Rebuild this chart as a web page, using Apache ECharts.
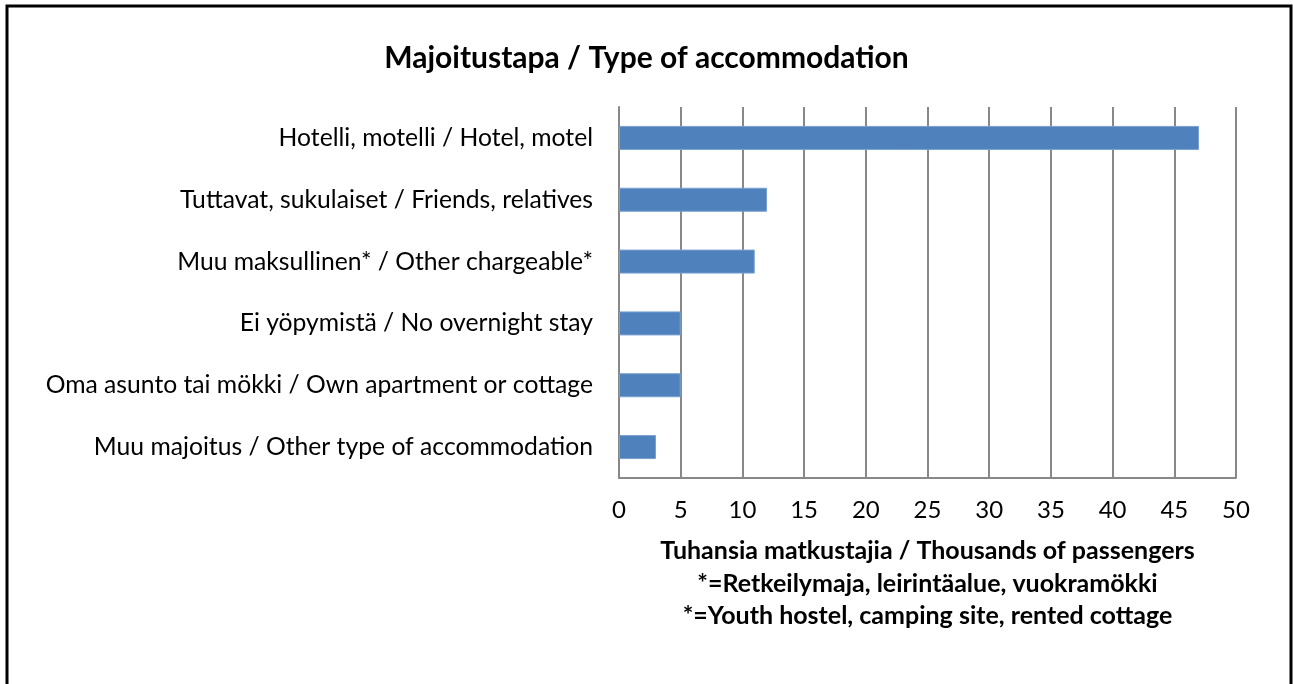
<!DOCTYPE html>
<html>
<head>
<meta charset="utf-8">
<script src="https://cdn.jsdelivr.net/npm/echarts@6/dist/echarts.min.js"></script>
<style>
  html, body { margin: 0; padding: 0; background: #fff; }
  #chart { width: 1293px; height: 684px; }
</style>
</head>
<body>
<div id="chart"></div>
<script>
// accommodation types, listed bottom to top as the y axis draws them
var categories = [
    'Muu majoitus / Other type of accommodation',
    'Oma asunto tai mökki / Own apartment or cottage',
    'Ei yöpymistä / No overnight stay',
    'Muu maksullinen* / Other chargeable*',
    'Tuttavat, sukulaiset / Friends, relatives',
    'Hotelli, motelli / Hotel, motel'
];
var passengers = [3, 5, 5, 11, 12, 47]; // thousands
var axisNameLines = [
    'Tuhansia matkustajia / Thousands of passengers',
    '*=Retkeilymaja, leirintäalue, vuokramökki',
    '*=Youth hostel, camping site, rented cottage'
];

var font = 'Lato, "Open Sans", sans-serif';

var chart = echarts.init(document.getElementById('chart'));
chart.setOption({
    animation: false,
    title: {
        text: 'Majoitustapa / Type of accommodation',
        left: 'center',
        top: 38,
        textStyle: {
            fontFamily: font,
            fontSize: 30,
            fontWeight: 'bold',
            color: '#000'
        }
    },
    graphic: [{
        type: 'rect',
        shape: { x: 7, y: 6, width: 1284, height: 700 },
        style: { fill: 'none', stroke: '#000', lineWidth: 3 },
        silent: true
    }],
    grid: {
        left: 619,
        right: 57,
        top: 107,
        bottom: 206
    },
    xAxis: {
        type: 'value',
        min: 0,
        max: 50,
        interval: 5,
        name: axisNameLines.join('\n'),
        nameLocation: 'middle',
        nameGap: 57,
        nameTextStyle: {
            fontFamily: font,
            fontSize: 25,
            fontWeight: 'bold',
            color: '#000',
            lineHeight: 32.5,
            verticalAlign: 'top'
        },
        axisLine: { show: true, lineStyle: { color: '#888', width: 2 } },
        axisTick: { show: false },
        axisLabel: {
            margin: 20,
            fontFamily: font,
            fontSize: 24,
            color: '#000'
        },
        splitLine: { show: true, lineStyle: { color: '#888', width: 2 } }
    },
    yAxis: {
        type: 'category',
        data: categories,
        axisLine: { show: true, lineStyle: { color: '#888', width: 2 } },
        axisTick: { show: false },
        axisLabel: {
            margin: 26,
            fontFamily: font,
            fontSize: 24.7,
            color: '#000'
        }
    },
    series: [{
        type: 'bar',
        data: passengers,
        barWidth: 24,
        itemStyle: {
            color: '#4f81bd',
            borderColor: '#7aa0d0',
            borderWidth: 1
        }
    }]
});
</script>
</body>
</html>
